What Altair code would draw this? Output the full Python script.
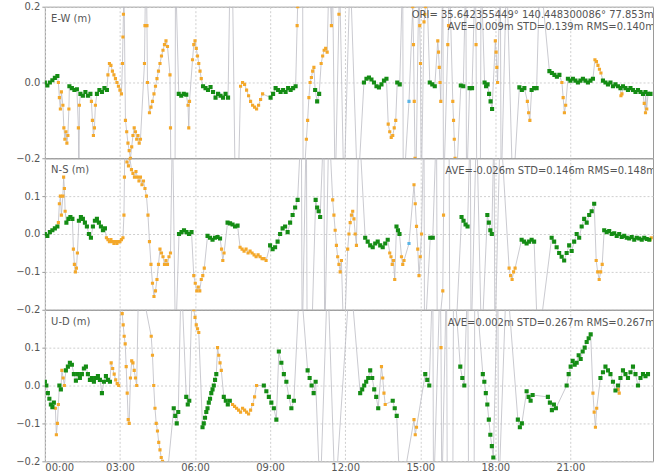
import altair as alt
import pandas as pd

# ---- data: (quality, start hour, epoch step h, values m) ; quality 1=fix, 2=float, 6=other
EW_SEGS = [
    (1, 0.00, 0.10, [0.000, -0.008, 0.000, 0.006, 0.012, 0.017]),
    (2, 0.54, 0.04, [0.000, -0.040, -0.070, -0.025]),
    (2, 0.72, 0.04, [-0.060, -0.120, -0.150, -0.130, -0.160, -0.140, -0.070]),
    (1, 0.98, 0.10, [-0.010, -0.015, -0.020, -0.018]),
    (2, 1.34, 0.02, [-0.120, -0.300, -0.060]),
    (1, 1.42, 0.10, [-0.030, -0.035, -0.025, -0.035, -0.030]),
    (2, 1.86, 0.04, [-0.050, -0.100, -0.140, -0.120, -0.060]),
    (1, 2.08, 0.10, [-0.030, -0.020, -0.025, -0.015, -0.020]),
    (2, 2.52, 0.06, [0.020, 0.050, 0.045, 0.030, 0.020, 0.010, 0.000, -0.010, -0.020, -0.030]),
    (2, 3.10, 0.02, [0.050, 0.120, 0.180, 0.260]),
    (2, 3.22, 0.05, [-0.100, -0.130, -0.160, -0.180, -0.200, -0.170, -0.140, -0.120]),
    (2, 3.62, 0.05, [-0.130, -0.150, -0.140, -0.160, -0.150]),
    (2, 3.98, 0.02, [0.050, 0.150, 0.260]),
    (2, 4.06, 0.02, [0.260, 0.150, 0.000]),
    (2, 4.18, 0.06, [-0.080, -0.065, -0.050, -0.030, -0.010, 0.010, 0.030, 0.050, 0.070, 0.085, 0.100, 0.110, 0.095]),
    (2, 5.00, 0.02, [0.020, -0.120, -0.300]),
    (2, 5.20, 0.02, [-0.300, 0.300]),
    (1, 5.35, 0.10, [-0.030, -0.035, -0.030, -0.032]),
    (2, 5.72, 0.03, [-0.060, -0.120, -0.050]),
    (2, 5.90, 0.05, [0.060, 0.100, 0.110, 0.090, 0.070, 0.050, 0.030, 0.010]),
    (1, 6.32, 0.10, [-0.010, -0.015, -0.020, -0.012, -0.025, -0.040, -0.030, -0.035, -0.040, -0.030, -0.040]),
    (6, 6.95, 0.10, [-0.030]),
    (2, 7.45, 0.01, [0.500]),
    (2, 7.65, 0.01, [-0.500]),
    (2, 7.82, 0.08, [-0.010, 0.000, -0.005, -0.020, -0.035, -0.050, -0.060, -0.065, -0.070, -0.060, -0.045, -0.030]),
    (1, 9.02, 0.10, [-0.040, -0.030, -0.015, -0.020, -0.025, -0.020, -0.025, -0.015, -0.020, -0.015, -0.010]),
    (2, 10.08, 0.02, [0.150, 0.200, 0.300]),
    (2, 10.30, 0.02, [0.300, -0.300]),
    (2, 10.45, 0.05, [-0.150, -0.100, -0.040, 0.000, 0.013, 0.030, 0.040]),
    (1, 10.80, 0.08, [-0.020, -0.050, -0.030]),
    (2, 11.04, 0.06, [0.050, 0.070, 0.085, 0.090, 0.080]),
    (2, 11.36, 0.02, [0.300]),
    (2, 11.45, 0.02, [0.150, 0.220, 0.300]),
    (2, 11.60, 0.02, [-0.300]),
    (2, 11.75, 0.02, [0.180, 0.300]),
    (2, 11.95, 0.02, [-0.300]),
    (2, 12.20, 0.02, [0.300]),
    (2, 12.50, 0.02, [-0.300]),
    (1, 12.75, 0.10, [0.000, 0.010, 0.013, 0.008, 0.000, -0.010, -0.013, -0.005, 0.005, 0.010]),
    (2, 13.72, 0.06, [-0.110, -0.130, -0.145, -0.140, -0.120, -0.100]),
    (1, 14.08, 0.10, [0.000, -0.005]),
    (2, 14.30, 0.02, [0.300, -0.300]),
    (6, 14.55, 0.10, [-0.050]),
    (2, 14.70, 0.03, [0.200, 0.100, -0.050, -0.200, -0.300]),
    (2, 14.95, 0.03, [0.300, 0.150, 0.050, -0.300]),
    (2, 15.15, 0.03, [0.160, 0.180, 0.200, 0.300]),
    (1, 15.38, 0.10, [0.000, -0.005, -0.010]),
    (2, 15.70, 0.03, [0.110, 0.080, 0.040, 0.000, -0.050]),
    (2, 15.90, 0.03, [0.300, -0.300]),
    (2, 16.10, 0.03, [0.100, 0.150, 0.300]),
    (2, 16.30, 0.03, [-0.050, -0.100, -0.150, -0.200, -0.300]),
    (1, 16.62, 0.10, [-0.008, -0.010]),
    (2, 16.82, 0.03, [0.300, -0.300]),
    (1, 16.97, 0.10, [-0.015, -0.015]),
    (2, 17.20, 0.03, [0.300, 0.100, -0.300]),
    (2, 17.40, 0.03, [-0.300, 0.300]),
    (1, 17.57, 0.06, [0.000, -0.010, -0.005, -0.030, -0.050, -0.070]),
    (2, 18.00, 0.03, [0.110, 0.080, 0.040, 0.000]),
    (2, 18.20, 0.03, [0.300, -0.300]),
    (2, 18.45, 0.03, [0.300]),
    (2, 18.70, 0.03, [-0.300]),
    (1, 18.96, 0.10, [-0.013, -0.020, -0.015]),
    (2, 19.28, 0.05, [-0.050, -0.080, -0.100]),
    (1, 19.45, 0.10, [-0.020, -0.015, -0.015]),
    (2, 19.78, 0.02, [0.300]),
    (1, 20.16, 0.10, [0.030, 0.025, 0.020, 0.015, 0.020]),
    (2, 20.66, 0.05, [0.000, -0.040, -0.080, -0.060]),
    (1, 20.90, 0.10, [0.010, 0.005, 0.010, 0.005, 0.000, 0.005, 0.010, 0.005, 0.000, 0.005, 0.010]),
    (2, 21.98, 0.06, [0.060, 0.055, 0.045, 0.035, 0.025]),
    (1, 22.30, 0.10, [0.005, 0.000, -0.005, 0.000, -0.010, -0.005, -0.010, -0.015, -0.010, -0.015,
                      -0.020, -0.015, -0.020, -0.025, -0.020, -0.025, -0.030, -0.025, -0.030, -0.030]),
    (2, 23.02, 0.04, [-0.035, -0.030]),
    (2, 23.95, 0.05, [-0.055, -0.080, -0.070]),
]

NS_SEGS = [
    (1, 0.00, 0.10, [0.000, -0.005, 0.005, 0.010, 0.015, 0.020]),
    (2, 0.54, 0.04, [0.030, 0.080, 0.100, 0.050]),
    (2, 0.72, 0.03, [0.100, 0.150, 0.120, 0.060]),
    (1, 0.86, 0.08, [0.030, 0.040, 0.045, 0.040]),
    (2, 1.14, 0.04, [-0.040, -0.080, -0.100, -0.090, -0.050]),
    (1, 1.36, 0.08, [0.035, 0.045, 0.040, 0.030, 0.020, 0.000, -0.010, 0.020, 0.035, 0.040, 0.030, 0.020, 0.010, 0.015]),
    (2, 2.46, 0.06, [-0.010, -0.015, -0.020, -0.015, -0.020, -0.025, -0.020, -0.025, -0.020, -0.020, -0.015, -0.010]),
    (2, 3.16, 0.02, [0.050, 0.150, 0.300]),
    (2, 3.28, 0.06, [0.190, 0.180, 0.200, 0.170, 0.160, 0.150, 0.165, 0.150, 0.140, 0.150, 0.130, 0.140, 0.120, 0.100]),
    (2, 4.12, 0.06, [0.050, -0.020, -0.080, -0.130, -0.165, -0.150, -0.120, -0.080, -0.040, -0.050, -0.060, -0.080, -0.070, -0.080, -0.060, -0.050]),
    (2, 5.10, 0.02, [0.300]),
    (2, 5.22, 0.02, [-0.300]),
    (1, 5.36, 0.10, [0.000, 0.005, 0.010, 0.005, 0.000, 0.005]),
    (2, 5.95, 0.06, [-0.110, -0.130, -0.150, -0.140, -0.150, -0.120, -0.110, -0.090]),
    (1, 6.50, 0.10, [-0.005, -0.010, -0.015, -0.010, -0.008, -0.012]),
    (2, 7.06, 0.05, [-0.040, -0.070, -0.050]),
    (1, 7.30, 0.10, [0.030, 0.028, 0.025, 0.020, 0.022]),
    (2, 7.80, 0.08, [-0.035, -0.040, -0.045, -0.040, -0.050, -0.045, -0.050, -0.055, -0.060, -0.055, -0.060, -0.065, -0.065, -0.070]),
    (1, 9.00, 0.10, [-0.030, -0.040, -0.035, -0.020, 0.000, 0.015, 0.020, 0.005, 0.030, 0.050, 0.070, 0.090]),
    (2, 10.25, 0.03, [0.300, -0.300]),
    (2, 10.45, 0.03, [0.300, -0.300]),
    (2, 10.65, 0.03, [-0.300]),
    (1, 10.82, 0.06, [0.090, 0.070, 0.060, 0.045]),
    (2, 11.15, 0.03, [0.300, -0.300]),
    (2, 11.35, 0.03, [0.300]),
    (2, 11.50, 0.05, [0.090, 0.050, 0.010, -0.030, -0.060, -0.080, -0.100, -0.070]),
    (2, 11.95, 0.03, [-0.300]),
    (2, 12.10, 0.05, [-0.040, 0.000, 0.030, 0.050, 0.060, 0.040, 0.000, -0.030]),
    (2, 12.55, 0.02, [0.300]),
    (1, 12.80, 0.10, [-0.010, -0.020, -0.030, -0.035, -0.025, -0.020, -0.030, -0.035, -0.025, -0.015]),
    (2, 13.78, 0.05, [-0.050, -0.060, -0.080, -0.070, -0.120]),
    (1, 14.05, 0.06, [0.020, 0.010, 0.000]),
    (2, 14.25, 0.05, [-0.060, -0.080, -0.070]),
    (6, 14.55, 0.10, [-0.025]),
    (2, 14.75, 0.05, [0.130, 0.080, 0.020, -0.040, -0.110, -0.060, 0.000]),
    (2, 15.15, 0.02, [0.300, -0.300]),
    (1, 15.40, 0.10, [-0.010, -0.010]),
    (2, 15.65, 0.03, [0.300, -0.300]),
    (2, 15.90, 0.03, [-0.150, 0.050, 0.300]),
    (2, 16.15, 0.03, [0.300, -0.300]),
    (2, 16.40, 0.03, [-0.300]),
    (1, 16.65, 0.08, [0.045, 0.035, 0.025, 0.020]),
    (2, 17.00, 0.03, [0.300, -0.300]),
    (2, 17.25, 0.03, [0.300]),
    (2, 17.45, 0.03, [-0.300]),
    (1, 17.68, 0.06, [0.050, 0.030, 0.010, 0.000]),
    (2, 17.95, 0.03, [0.300, -0.300]),
    (2, 18.20, 0.03, [0.300]),
    (2, 18.55, 0.06, [-0.090, -0.110, -0.120, -0.100, -0.090]),
    (1, 19.05, 0.10, [-0.015, -0.020, -0.025, -0.020, -0.015, -0.020]),
    (2, 19.70, 0.02, [-0.300]),
    (1, 20.25, 0.10, [-0.010, -0.020, -0.035, -0.050, -0.060, -0.070, -0.050, -0.030, -0.045, -0.020,
                      0.000, -0.010, 0.020, 0.040, 0.030, 0.050, 0.060, 0.080]),
    (2, 22.03, 0.06, [-0.070, -0.100, -0.120, -0.100, -0.080]),
    (1, 22.35, 0.10, [0.010, 0.005, 0.008, 0.000, 0.002, -0.005, 0.000, -0.008, -0.005, -0.010,
                      -0.012, -0.008, -0.015, -0.010, -0.012, -0.015, -0.010, -0.013, -0.015]),
    (2, 24.18, 0.05, [-0.015, -0.010]),
]

UD_SEGS = [
    (1, 0.00, 0.06, [0.010, 0.000, -0.020, -0.035, -0.050, -0.057, -0.045]),
    (2, 0.42, 0.04, [-0.060, -0.130, -0.100, -0.050]),
    (1, 0.58, 0.06, [0.000, -0.010]),
    (2, 0.68, 0.05, [0.040, 0.020, 0.000]),
    (1, 0.84, 0.08, [0.040, 0.050, 0.060, 0.055, 0.030, 0.013, 0.030, 0.020, 0.030, 0.045, 0.050, 0.030,
                     0.015, 0.020, 0.010, 0.020, 0.025, 0.015, -0.020, 0.010, 0.025, 0.015, 0.010]),
    (2, 2.65, 0.06, [0.060, 0.045, 0.030, 0.015, 0.005, 0.000]),
    (2, 3.05, 0.04, [0.300, 0.190, 0.160, 0.130, 0.110, 0.050, -0.020, -0.090, -0.100]),
    (2, 3.42, 0.05, [0.020, 0.065, 0.060, 0.040, 0.020, 0.000]),
    (2, 3.75, 0.03, [0.300]),
    (2, 4.25, 0.05, [0.130, 0.080, 0.000, -0.060, -0.100, -0.120, -0.150, -0.170, -0.190, -0.200]),
    (2, 4.80, 0.03, [-0.300]),
    (1, 5.15, 0.06, [-0.060, -0.080, -0.100, -0.070]),
    (2, 5.45, 0.03, [0.300]),
    (1, 5.65, 0.06, [-0.030, -0.050, -0.040]),
    (2, 5.90, 0.05, [0.300, 0.200, 0.180, 0.160, 0.150, 0.140]),
    (1, 6.30, 0.05, [-0.110, -0.100, -0.085, -0.070, -0.060, -0.045, -0.035, -0.020, -0.010, 0.000, 0.015, 0.030]),
    (2, 6.90, 0.05, [0.100, 0.080, 0.060, 0.040]),
    (1, 7.15, 0.08, [-0.030, -0.040, -0.050, -0.040]),
    (2, 7.50, 0.08, [-0.050, -0.055, -0.060, -0.065, -0.070, -0.060, -0.065, -0.070, -0.075, -0.065, -0.050, -0.030, 0.000]),
    (1, 8.75, 0.10, [0.000, -0.015, -0.030, -0.045, -0.060, -0.090, 0.090, 0.060, 0.030, 0.010, -0.030, -0.060, -0.040]),
    (2, 10.20, 0.03, [0.300]),
    (1, 10.50, 0.08, [0.040, 0.020, 0.000, -0.020, 0.010]),
    (2, 11.00, 0.03, [-0.300]),
    (2, 11.30, 0.03, [0.300]),
    (2, 11.60, 0.03, [-0.300]),
    (2, 12.20, 0.03, [0.300]),
    (1, 12.60, 0.08, [-0.020, -0.010, 0.000, 0.010, 0.020, 0.040, 0.020, -0.010, -0.030, -0.060]),
    (2, 13.45, 0.05, [0.050, 0.020, -0.020, -0.050]),
    (1, 13.90, 0.08, [-0.040, -0.060, -0.080]),
    (2, 14.20, 0.03, [-0.300]),
    (2, 14.75, 0.05, [-0.090, -0.130, -0.110]),
    (1, 15.20, 0.08, [0.030, 0.015, 0.000]),
    (2, 15.50, 0.03, [0.300, -0.300]),
    (2, 15.80, 0.03, [0.300, 0.100, -0.300]),
    (2, 16.05, 0.03, [0.300, -0.300]),
    (2, 16.30, 0.03, [-0.300, 0.300]),
    (1, 16.60, 0.08, [0.050, 0.020, 0.000]),
    (2, 16.90, 0.03, [0.300, -0.300]),
    (2, 17.15, 0.03, [-0.300, 0.300]),
    (1, 17.50, 0.06, [0.030, 0.010, -0.020, -0.050, -0.090, -0.130, -0.160, -0.190]),
    (2, 18.10, 0.03, [0.300, -0.300]),
    (2, 18.45, 0.03, [0.300]),
    (1, 18.90, 0.08, [-0.090, -0.110, -0.100]),
    (1, 19.25, 0.08, [-0.015, -0.030, -0.040, -0.025]),
    (1, 20.10, 0.08, [-0.030, -0.045, -0.065, -0.050, -0.060]),
    (1, 20.85, 0.08, [0.000, 0.030, 0.050, 0.065, 0.055, 0.060, 0.080, 0.070, 0.090, 0.100, 0.115, 0.125, 0.135]),
    (2, 21.90, 0.05, [-0.020, -0.070, -0.110, -0.060]),
    (1, 22.20, 0.10, [0.020, 0.035, 0.050, 0.040, 0.030, 0.010, -0.013, 0.000, 0.020, 0.040,
                      0.030, 0.020, 0.035, 0.050, 0.030, 0.000, 0.020, 0.030, 0.025, 0.030]),
    (2, 22.90, 0.05, [-0.010, -0.020]),
]

PANEL_LABELS = ["E-W (m)", "N-S (m)", "U-D (m)"]
STAT_LINES = [
    [("ORI= 35.642355449° 140.448300086°  77.853m", 14.66, 0.178),
     ("AVE=0.009m STD=0.139m RMS=0.140m", 16.10, 0.147)],
    [("AVE=-0.026m STD=0.146m RMS=0.148m", 16.00, 0.166)],
    [("AVE=0.002m STD=0.267m RMS=0.267m", 16.10, 0.166)],
]
X_TICKS = [0, 3, 6, 9, 12, 15, 18, 21]
X_MAX = 24.3

GREEN = "#148c14"
ORANGE = "#f4a82a"
CYAN = "#5ab4e6"
LINE_GRAY = "#bdbdc4"


def expand(segs):
    rows = []
    for q, t0, dt, vals in segs:
        for i, v in enumerate(vals):
            rows.append({"t": round(t0 + i * dt, 4), "v": v, "q": q})
    return pd.DataFrame(rows).sort_values("t").reset_index(drop=True)


def make_panel(segs, label, stats, yvals, bottom):
    df = expand(segs)
    xaxis = alt.Axis(values=X_TICKS, grid=True, labels=bottom, ticks=False, domain=False,
                     title=None, labelPadding=1,
                     labelExpr="(datum.value < 10 ? '0' : '') + datum.value + ':00'")
    x = alt.X("t:Q", scale=alt.Scale(domain=[0, X_MAX], nice=False, zero=False), axis=xaxis)
    y = alt.Y("v:Q", scale=alt.Scale(domain=[-0.2, 0.2], nice=False, zero=False),
              axis=alt.Axis(values=yvals, format=".1f", grid=True, domain=False, title=None,
                            tickSize=3, labelPadding=2))
    line = alt.Chart(df).mark_line(color=LINE_GRAY, strokeWidth=0.8, clip=True).encode(
        x=x, y=y, order="t:Q")
    flt = alt.Chart(df[df.q != 1]).mark_square(size=10, clip=True, opacity=1).encode(
        x=x, y=y,
        color=alt.Color("q:N", scale=alt.Scale(domain=[1, 2, 6], range=[GREEN, ORANGE, CYAN]), legend=None))
    fix = alt.Chart(df[df.q == 1]).mark_square(size=17, clip=True, opacity=1, color=GREEN).encode(x=x, y=y)
    tdf = pd.DataFrame([{"s": label, "tx": 0.25, "ty": 0.168}] +
                       [{"s": s, "tx": tx, "ty": ty} for s, tx, ty in stats])
    txt = alt.Chart(tdf).mark_text(align="left", baseline="middle", fontSize=10, color="#555",
                                   font="DejaVu Sans", clip=True).encode(
        x=alt.X("tx:Q"), y=alt.Y("ty:Q"), text="s:N")
    return alt.layer(line, flt, fix, txt).properties(width=610, height=152)


p1 = make_panel(EW_SEGS, PANEL_LABELS[0], STAT_LINES[0], [-0.2, -0.1, 0.0, 0.1, 0.2], False)
p2 = make_panel(NS_SEGS, PANEL_LABELS[1], STAT_LINES[1], [-0.2, -0.1, 0.0, 0.1], False)
p3 = make_panel(UD_SEGS, PANEL_LABELS[2], STAT_LINES[2], [-0.2, -0.1, 0.0, 0.1], True)

chart = alt.vconcat(p1, p2, p3, spacing=0, bounds="flush").properties(
    padding={"left": 15, "top": 0, "right": 0, "bottom": 0},
    background="white",
).configure_view(stroke="#9a9a9a", strokeWidth=1).configure_axis(
    gridColor="#cfcfcf", gridDash=[2, 2], gridWidth=1,
    labelColor="#555", labelFontSize=10, labelFont="DejaVu Sans",
    tickColor="#9a9a9a",
)

chart.save("out.html", embed_options={"renderer": "svg", "actions": False})
